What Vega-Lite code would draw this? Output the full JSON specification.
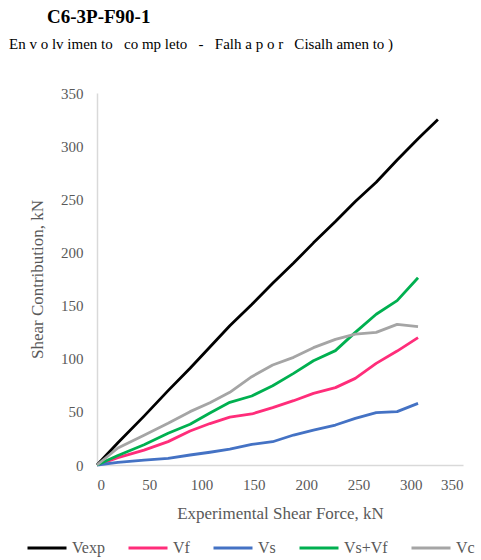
{
  "$schema": "https://vega.github.io/schema/vega-lite/v6.json",
  "width": 366,
  "height": 372,
  "autosize": "none",
  "padding": {"left": 97, "top": 93, "right": 18, "bottom": 95},
  "background": "white",
  "title": {
    "text": "\u200b\u2002\u2002\u2002\u2002C6-3P-F90-1",
    "subtitle": "En v o lv imen to\u2002 co mp leto\u2002 -\u2002 Falh a p o r\u2002 Cisalh amen to )",
    "anchor": "start",
    "frame": "group",
    "dx": -88,
    "offset": 34,
    "font": "Liberation Serif",
    "fontSize": 19,
    "fontWeight": "bold",
    "color": "#000000",
    "subtitleFont": "Liberation Serif",
    "subtitleFontSize": 15,
    "subtitleColor": "#000000",
    "subtitlePadding": 10
  },
  "data": {
    "values": [
      {"s": "Vexp", "x": 0, "y": 0},
      {"s": "Vexp", "x": 20, "y": 21},
      {"s": "Vexp", "x": 45, "y": 46},
      {"s": "Vexp", "x": 68, "y": 70},
      {"s": "Vexp", "x": 89, "y": 91},
      {"s": "Vexp", "x": 108, "y": 111},
      {"s": "Vexp", "x": 127, "y": 131},
      {"s": "Vexp", "x": 148, "y": 151},
      {"s": "Vexp", "x": 168, "y": 171},
      {"s": "Vexp", "x": 188, "y": 190},
      {"s": "Vexp", "x": 207, "y": 209},
      {"s": "Vexp", "x": 228, "y": 229},
      {"s": "Vexp", "x": 247, "y": 248},
      {"s": "Vexp", "x": 267, "y": 266},
      {"s": "Vexp", "x": 287, "y": 287},
      {"s": "Vexp", "x": 307, "y": 307},
      {"s": "Vexp", "x": 326, "y": 325},
      {"s": "Vf", "x": 0, "y": 0},
      {"s": "Vf", "x": 20, "y": 7},
      {"s": "Vf", "x": 45, "y": 14},
      {"s": "Vf", "x": 68, "y": 22},
      {"s": "Vf", "x": 89, "y": 32},
      {"s": "Vf", "x": 108, "y": 39},
      {"s": "Vf", "x": 127, "y": 45},
      {"s": "Vf", "x": 148, "y": 48},
      {"s": "Vf", "x": 168, "y": 54},
      {"s": "Vf", "x": 188, "y": 60.5},
      {"s": "Vf", "x": 207, "y": 67.4},
      {"s": "Vf", "x": 228, "y": 72.8},
      {"s": "Vf", "x": 247, "y": 81.5},
      {"s": "Vf", "x": 267, "y": 95.6},
      {"s": "Vf", "x": 287, "y": 107.2},
      {"s": "Vf", "x": 307, "y": 119.8},
      {"s": "Vs", "x": 0, "y": 0},
      {"s": "Vs", "x": 20, "y": 2.5},
      {"s": "Vs", "x": 45, "y": 4.5},
      {"s": "Vs", "x": 68, "y": 6.3},
      {"s": "Vs", "x": 89, "y": 9.4},
      {"s": "Vs", "x": 108, "y": 12},
      {"s": "Vs", "x": 127, "y": 15},
      {"s": "Vs", "x": 148, "y": 19.4},
      {"s": "Vs", "x": 168, "y": 21.9},
      {"s": "Vs", "x": 188, "y": 28.2},
      {"s": "Vs", "x": 207, "y": 32.9},
      {"s": "Vs", "x": 228, "y": 37.6},
      {"s": "Vs", "x": 247, "y": 43.9},
      {"s": "Vs", "x": 267, "y": 49.2},
      {"s": "Vs", "x": 287, "y": 50.2},
      {"s": "Vs", "x": 307, "y": 58},
      {"s": "Vs+Vf", "x": 0, "y": 0},
      {"s": "Vs+Vf", "x": 20, "y": 9},
      {"s": "Vs+Vf", "x": 45, "y": 19},
      {"s": "Vs+Vf", "x": 68, "y": 29.8},
      {"s": "Vs+Vf", "x": 89, "y": 38.3},
      {"s": "Vs+Vf", "x": 108, "y": 49},
      {"s": "Vs+Vf", "x": 127, "y": 59},
      {"s": "Vs+Vf", "x": 148, "y": 64.9},
      {"s": "Vs+Vf", "x": 168, "y": 74.6},
      {"s": "Vs+Vf", "x": 188, "y": 86.2},
      {"s": "Vs+Vf", "x": 207, "y": 98.1},
      {"s": "Vs+Vf", "x": 228, "y": 107.6},
      {"s": "Vs+Vf", "x": 247, "y": 124.8},
      {"s": "Vs+Vf", "x": 267, "y": 141.8},
      {"s": "Vs+Vf", "x": 287, "y": 154.6},
      {"s": "Vs+Vf", "x": 307, "y": 176.2},
      {"s": "Vc", "x": 0, "y": 0},
      {"s": "Vc", "x": 20, "y": 16},
      {"s": "Vc", "x": 45, "y": 28},
      {"s": "Vc", "x": 68, "y": 39.2},
      {"s": "Vc", "x": 89, "y": 50.2},
      {"s": "Vc", "x": 108, "y": 58.6},
      {"s": "Vc", "x": 127, "y": 68.4},
      {"s": "Vc", "x": 148, "y": 83.1},
      {"s": "Vc", "x": 168, "y": 94.1},
      {"s": "Vc", "x": 188, "y": 101.3},
      {"s": "Vc", "x": 207, "y": 110.4},
      {"s": "Vc", "x": 228, "y": 118.2},
      {"s": "Vc", "x": 247, "y": 123.2},
      {"s": "Vc", "x": 267, "y": 124.8},
      {"s": "Vc", "x": 287, "y": 132.3},
      {"s": "Vc", "x": 307, "y": 130.1}
    ]
  },
  "mark": {"type": "line", "strokeWidth": 2.8, "strokeJoin": "round"},
  "encoding": {
    "x": {
      "field": "x", "type": "quantitative",
      "scale": {"domain": [0, 350], "nice": false},
      "axis": {"values": [0, 50, 100, 150, 200, 250, 300, 350], "title": "Experimental Shear Force, kN", "grid": false, "ticks": false, "domainColor": "#d9d9d9", "domainWidth": 1.5, "labelPadding": 12, "titlePadding": 13}
    },
    "y": {
      "field": "y", "type": "quantitative",
      "scale": {"domain": [0, 350], "nice": false},
      "axis": {"values": [0, 50, 100, 150, 200, 250, 300, 350], "title": "Shear Contribution, kN", "grid": false, "ticks": false, "domainColor": "#d9d9d9", "domainWidth": 1.5, "labelPadding": 14, "titlePadding": 14}
    },
    "color": {
      "field": "s", "type": "nominal",
      "sort": ["Vexp", "Vf", "Vs", "Vs+Vf", "Vc"],
      "scale": {"domain": ["Vexp", "Vf", "Vs", "Vs+Vf", "Vc"], "range": ["#000000", "#ff2d7a", "#4472c4", "#00b050", "#a5a5a5"]},
      "legend": {"title": null, "orient": "none", "direction": "horizontal", "legendX": -71, "legendY": 434, "symbolType": "stroke", "symbolSize": 1521, "symbolStrokeWidth": 3, "columnPadding": 17, "labelOffset": 4, "gridAlign": "none"}
    }
  },
  "config": {
    "view": {"stroke": null},
    "axis": {"labelFont": "Liberation Serif", "labelFontSize": 15, "labelColor": "#595959", "titleFont": "Liberation Serif", "titleFontSize": 17, "titleFontWeight": "normal", "titleColor": "#595959"},
    "legend": {"labelFont": "Liberation Serif", "labelFontSize": 16, "labelColor": "#595959"}
  }
}
